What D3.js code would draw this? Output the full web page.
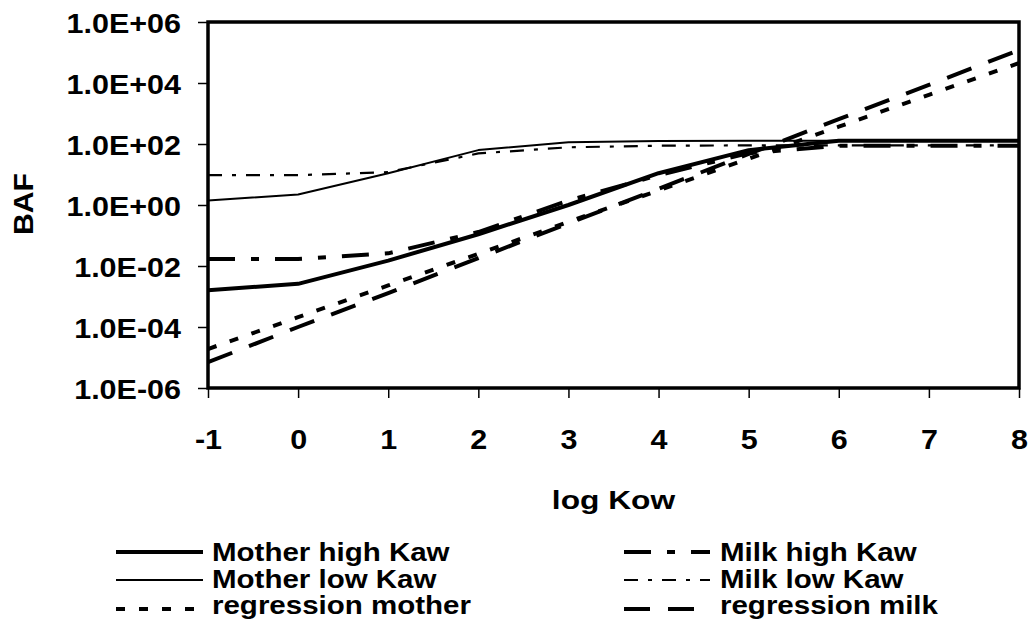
<!DOCTYPE html>
<html>
<head>
<meta charset="utf-8">
<script src="https://cdn.jsdelivr.net/npm/d3@7/dist/d3.min.js"></script>
<style>
  body { margin: 0; background: #fff; }
  svg text { font-family: "Liberation Sans", Arial, sans-serif; font-weight: bold; fill: #000; }
</style>
</head>
<body>
<div id="chart"></div>
<script>
// data
const LOG_KOW = [-1, 0, 1, 2, 3, 4, 5, 6, 7, 8];
const MOTHER_HIGH_KAW = [1.6e-3, 2.6e-3, 0.015, 0.11, 1.0, 11, 63, 128, 128, 128];
const MOTHER_LOW_KAW = [1.4, 2.2, 11, 63, 115, 126, 128, 128, 128, 128];
const MILK_HIGH_KAW = [0.017, 0.017, 0.026, 0.13, 1.4, 9.5, 50, 88, 88, 88];
const MILK_LOW_KAW = [9.5, 9.5, 12, 49, 78, 88, 90, 90, 90, 90];
const REGRESSION_MOTHER = [1.9e-5, 2.1e-4, 2.3e-3, 0.025, 0.28, 3.0, 33, 370, 4100, 45000];
const REGRESSION_MILK = [7e-6, 1e-4, 1.3e-3, 0.018, 0.25, 3.4, 47, 650, 8700, 1.2e5];
const Y_TICKS = [1e-6, 1e-4, 1e-2, 1, 1e2, 1e4, 1e6];
const X_TITLE = 'log Kow';
const Y_TITLE = 'BAF';

// line styles for each series (legend order: left column, then right column)
const SERIES = [
    { name: 'Mother high Kaw', values: MOTHER_HIGH_KAW, width: 4, dash: null },
    { name: 'Mother low Kaw', values: MOTHER_LOW_KAW, width: 2, dash: null },
    { name: 'regression mother', values: REGRESSION_MOTHER, width: 4, dash: '9,14' },
    { name: 'Milk high Kaw', values: MILK_HIGH_KAW, width: 4, dash: '27,16,8,16' },
    { name: 'Milk low Kaw', values: MILK_LOW_KAW, width: 2.2, dash: '14,10,4,10' },
    { name: 'regression milk', values: REGRESSION_MILK, width: 4, dash: '26,18' }
];

const WIDTH = 1034, HEIGHT = 628;
const PLOT = { left: 208, right: 1019, top: 22, bottom: 388 };

// the reference text is a little wider than plain Arial bold
const TICK_STRETCH = 1.09;
const LABEL_STRETCH = 1.18;

function formatE(v) {
    const [m, e] = v.toExponential(1).split('e');
    const n = +e;
    return m + 'E' + (n < 0 ? '-' : '+') + String(Math.abs(n)).padStart(2, '0');
}

const svg = d3.select('#chart').append('svg')
    .attr('width', WIDTH)
    .attr('height', HEIGHT);

const x = d3.scaleLinear().domain([-1, 8]).range([PLOT.left, PLOT.right]);
const y = d3.scaleLog().domain([1e-6, 1e6]).range([PLOT.bottom, PLOT.top]);

// y axis
const yAxis = svg.append('g')
    .attr('transform', `translate(${PLOT.left},0)`)
    .call(d3.axisLeft(y).tickValues(Y_TICKS).tickSize(10).tickFormat(formatE));
yAxis.select('.domain').remove();
yAxis.selectAll('.tick line').attr('stroke', '#000').attr('stroke-width', 1.5);
yAxis.selectAll('.tick text')
    .attr('x', -27 / TICK_STRETCH)
    .attr('dy', '0.36em')
    .attr('transform', `scale(${TICK_STRETCH},1)`)
    .style('font-size', '28px');

// x axis (plain hyphen for the minus sign, as in the reference)
const xAxis = svg.append('g')
    .attr('transform', `translate(0,${PLOT.bottom})`)
    .call(d3.axisBottom(x).tickValues(LOG_KOW).tickSize(10).tickFormat(d => String(d)));
xAxis.select('.domain').remove();
xAxis.selectAll('.tick line').attr('stroke', '#000').attr('stroke-width', 1.5);
xAxis.selectAll('.tick text')
    .attr('y', 61)
    .attr('dy', 0)
    .attr('transform', `scale(${TICK_STRETCH},1)`)
    .style('font-size', '28px');

// axis titles
svg.append('text')
    .attr('text-anchor', 'middle')
    .attr('transform', `translate(${(PLOT.left + PLOT.right) / 2},509) scale(1.22,1)`)
    .style('font-size', '26px')
    .text(X_TITLE);

svg.append('text')
    .attr('text-anchor', 'middle')
    .attr('transform', `translate(33,${(PLOT.top + PLOT.bottom) / 2 - 1}) rotate(-90) scale(1.08,1)`)
    .style('font-size', '28px')
    .text(Y_TITLE);

// series lines
const line = d3.line()
    .x((d, i) => x(LOG_KOW[i]))
    .y(d => y(d));

svg.append('clipPath').attr('id', 'plot-clip')
    .append('rect')
    .attr('x', PLOT.left).attr('y', PLOT.top)
    .attr('width', PLOT.right - PLOT.left).attr('height', PLOT.bottom - PLOT.top);

svg.append('g')
    .attr('clip-path', 'url(#plot-clip)')
    .selectAll('path')
    .data(SERIES)
    .enter()
    .append('path')
    .attr('d', d => line(d.values))
    .attr('fill', 'none')
    .attr('stroke', '#000')
    .attr('stroke-width', d => d.width)
    .attr('stroke-dasharray', d => d.dash)
    .attr('stroke-linejoin', 'round');

// plot frame
svg.append('rect')
    .attr('x', PLOT.left)
    .attr('y', PLOT.top)
    .attr('width', PLOT.right - PLOT.left)
    .attr('height', PLOT.bottom - PLOT.top)
    .attr('fill', 'none')
    .attr('stroke', '#000')
    .attr('stroke-width', 3.5);

// legend, two columns of three rows
const LEGEND_COLS = [
    { lineX1: 116, lineX2: 203, textX: 212 },
    { lineX1: 624, lineX2: 710, textX: 720 }
];
const LEGEND_LINE_Y = [552, 580, 609];
const LEGEND_TEXT_Y = [561, 588, 614];

const legend = svg.append('g')
    .selectAll('g')
    .data(SERIES)
    .enter()
    .append('g');

legend.append('line')
    .attr('x1', (d, i) => LEGEND_COLS[Math.floor(i / 3)].lineX1)
    .attr('x2', (d, i) => LEGEND_COLS[Math.floor(i / 3)].lineX2)
    .attr('y1', (d, i) => LEGEND_LINE_Y[i % 3])
    .attr('y2', (d, i) => LEGEND_LINE_Y[i % 3])
    .attr('stroke', '#000')
    .attr('stroke-width', d => d.width)
    .attr('stroke-dasharray', d => d.dash);

legend.append('text')
    .attr('transform', (d, i) =>
        `translate(${LEGEND_COLS[Math.floor(i / 3)].textX},${LEGEND_TEXT_Y[i % 3]}) scale(${LABEL_STRETCH},1)`)
    .style('font-size', '25px')
    .text(d => d.name);
</script>
</body>
</html>
